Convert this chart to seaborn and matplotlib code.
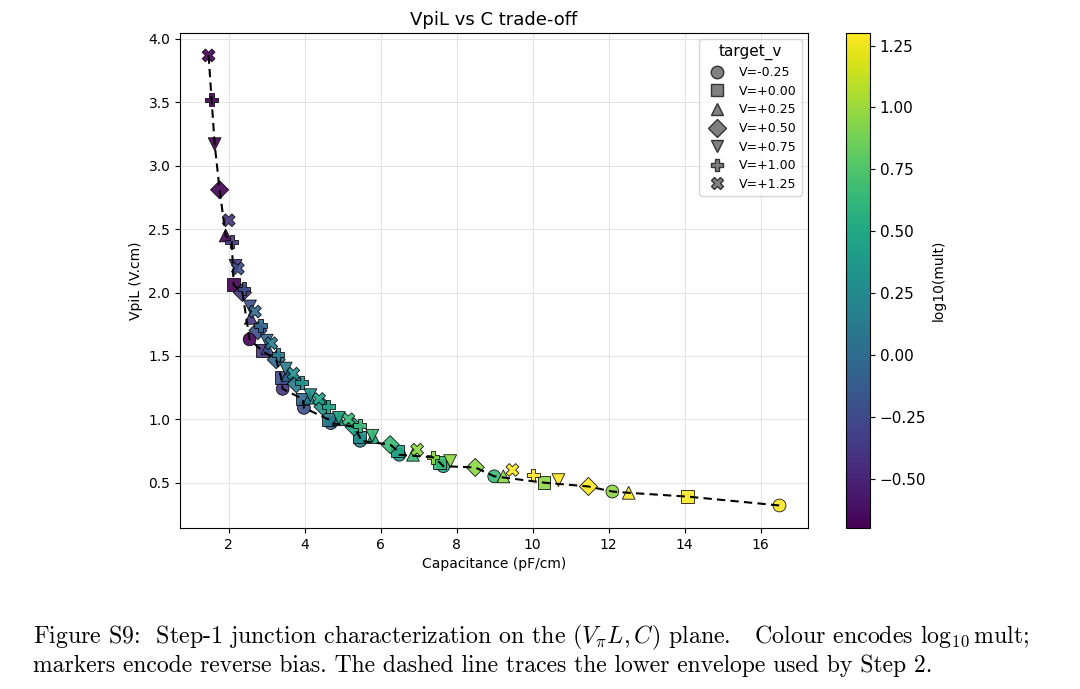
import numpy as np
import pandas as pd
import seaborn as sns
import matplotlib.pyplot as plt
from matplotlib.lines import Line2D
from matplotlib.colors import Normalize
from matplotlib.cm import ScalarMappable

target_v = [-0.25, 0.00, 0.25, 0.50, 0.75, 1.00, 1.25]
mult = [0.2, 0.4, 0.6, 0.9, 1.3, 2, 3, 4.5, 9, 20]

cap_m025 = [2.55, 3.42, 3.98, 4.69, 5.46, 6.49, 7.65, 8.99, 12.1, 16.5]
vpil_m025 = [1.63, 1.24, 1.09, 0.97, 0.83, 0.72, 0.63, 0.55, 0.43, 0.32]
cap_p000 = [2.13, 2.88, 3.38, 3.95, 4.62, 5.45, 6.45, 7.55, 10.3, 14.08]
vpil_p000 = [2.06, 1.54, 1.33, 1.16, 1.00, 0.86, 0.75, 0.66, 0.50, 0.39]
cap_p025 = [1.92, 2.58, 3.02, 3.55, 4.13, 4.90, 5.80, 6.85, 9.23, 12.53]
vpil_p025 = [2.45, 1.80, 1.56, 1.35, 1.17, 1.00, 0.86, 0.72, 0.55, 0.42]
cap_p050 = [1.76, 2.36, 2.77, 3.25, 3.78, 4.48, 5.30, 6.25, 8.49, 11.47]
vpil_p050 = [2.81, 2.00, 1.70, 1.47, 1.28, 1.10, 0.94, 0.80, 0.62, 0.47]
cap_p075 = [1.63, 2.18, 2.56, 3.00, 3.50, 4.15, 4.90, 5.78, 7.83, 10.68]
vpil_p075 = [3.17, 2.21, 1.89, 1.62, 1.40, 1.19, 1.01, 0.87, 0.67, 0.52]
cap_p100 = [1.55, 2.08, 2.40, 2.84, 3.30, 3.92, 4.62, 5.45, 7.38, 10.02]
vpil_p100 = [3.52, 2.40, 2.03, 1.74, 1.51, 1.29, 1.10, 0.95, 0.70, 0.56]
cap_p125 = [1.47, 2.00, 2.24, 2.69, 3.12, 3.70, 4.38, 5.15, 6.96, 9.47]
vpil_p125 = [3.87, 2.57, 2.19, 1.85, 1.60, 1.36, 1.16, 1.00, 0.76, 0.60]

caps = [cap_m025, cap_p000, cap_p025, cap_p050, cap_p075, cap_p100, cap_p125]
vpils = [vpil_m025, vpil_p000, vpil_p025, vpil_p050, vpil_p075, vpil_p100, vpil_p125]
marker_list = ['o', 's', '^', 'D', 'v', 'P', 'X']

rows = []
for v, c_list, y_list in zip(target_v, caps, vpils):
    for m, c, y in zip(mult, c_list, y_list):
        rows.append({'target_v': f'V={v:+.2f}', 'C': c, 'VpiL': y,
                     'log_mult': np.log10(m)})
df = pd.DataFrame(rows)
labels = [f'V={v:+.2f}' for v in target_v]
markers = dict(zip(labels, marker_list))

# 하한 포락선 (pareto front)
front = df.sort_values('C')
front = front[front['VpiL'] < front['VpiL'].cummin().shift(1, fill_value=np.inf)]

vmin, vmax = np.log10(0.2), np.log10(20)
norm = Normalize(vmin=vmin, vmax=vmax)

fig = plt.figure(figsize=(10.8, 6.89), dpi=100)
ax = fig.add_axes([0.1667, 0.2337, 0.5815, 0.7185])
cax = fig.add_axes([0.7833, 0.2337, 0.0222, 0.7185])

sns.scatterplot(data=df, x='C', y='VpiL', hue='log_mult', style='target_v',
                palette='viridis', hue_norm=norm, markers=markers,
                style_order=labels, s=85, edgecolor='black', linewidth=0.6,
                alpha=0.9, legend=False, ax=ax, zorder=2)
ax.plot(front['C'], front['VpiL'], color='black', linestyle='--',
        linewidth=1.5, dashes=(4, 2.5), zorder=3)

ax.grid(True, color='#d9d9d9', linewidth=0.8, alpha=0.7)
ax.set_axisbelow(True)
ax.set_title('VpiL vs C trade-off', fontsize=13)
ax.set_xlabel('Capacitance (pF/cm)', fontsize=10)
ax.set_ylabel('VpiL (V.cm)', fontsize=10)
ax.set_xticks(range(2, 17, 2))
ax.set_yticks(np.arange(0.5, 4.01, 0.5))

handles = [Line2D([], [], marker=m, linestyle='', markerfacecolor='gray',
                  markeredgecolor='#333333', markersize=9, label=l)
           for m, l in zip(marker_list, labels)]
ax.legend(handles=handles, title='target_v', loc='upper right',
          fontsize=9, title_fontsize=11, labelspacing=0.45)

cb = fig.colorbar(ScalarMappable(norm=norm, cmap='viridis'), cax=cax)
cb.set_label('log10(mult)', fontsize=10)
cb.set_ticks([-0.5, -0.25, 0.0, 0.25, 0.5, 0.75, 1.0, 1.25])
cb.ax.tick_params(labelsize=11)

plt.rcParams['mathtext.fontset'] = 'cm'
fig.text(0.031, 0.075,
         r'Figure S9:  Step-1 junction characterization on the $(V_\pi L, C)$ plane.   '
         r'Colour encodes $\log_{10}$mult;',
         fontsize=17.2, family='cmr10', va='center')
fig.text(0.031, 0.034,
         'markers encode reverse bias. The dashed line traces the lower envelope used by Step 2.',
         fontsize=17.0, family='cmr10', va='center')

fig.savefig('out.png', dpi=100)
